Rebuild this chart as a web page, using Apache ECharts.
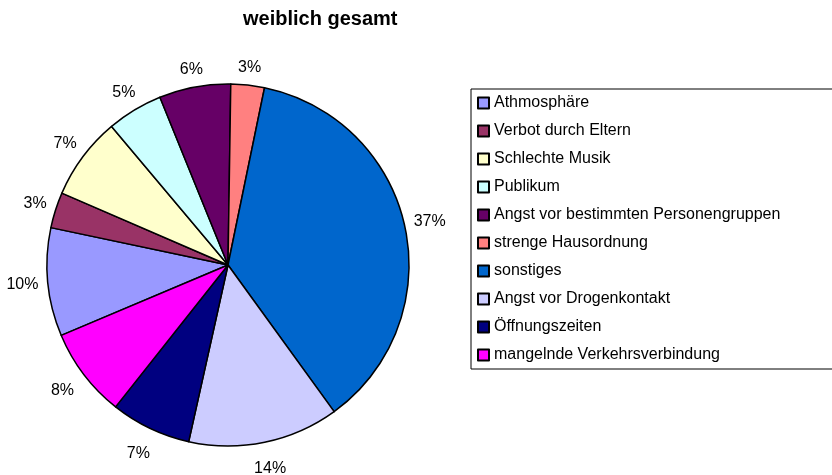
<!DOCTYPE html>
<html>
<head>
<meta charset="utf-8">
<script src="https://cdn.jsdelivr.net/npm/echarts@6/dist/echarts.min.js"></script>
<style>
html, body { margin: 0; padding: 0; background: #fff; }
#chart { width: 832px; height: 475px; }
</style>
</head>
<body>
<div id="chart"></div>
<script>
// Kategorien in Legendenreihenfolge
var categories = ['Athmosphäre', 'Verbot durch Eltern', 'Schlechte Musik', 'Publikum',
	'Angst vor bestimmten Personengruppen', 'strenge Hausordnung', 'sonstiges',
	'Angst vor Drogenkontakt', 'Öffnungszeiten', 'mangelnde Verkehrsverbindung'];
// Anteile in Prozent (aus der Grafik geschätzt)
var shares = [9.7, 3.2, 7.4, 5.0, 6.4, 3.0, 36.9, 13.5, 7.2, 8.0];
var colors = ['#9999FF', '#993366', '#FFFFCC', '#CCFFFF', '#660066',
	'#FF8080', '#0066CC', '#CCCCFF', '#000080', '#FF00FF'];

var font = "'Liberation Sans', Arial, sans-serif";
var cx = 228, cy = 265, r = 181;
var startAngle = 202.9; // Athmosphäre beginnt bei ca. 247° im Uhrzeigersinn ab 12 Uhr

var total = 0;
for (var i = 0; i < shares.length; i++) total += shares[i];

// Winkel der Segmentmitte (Grad, gegen den Uhrzeigersinn ab 3 Uhr)
function midAngle(idx) {
	var before = 0;
	for (var k = 0; k < idx; k++) before += shares[k];
	return startAngle - (before + shares[idx] / 2) / total * 360;
}

var chart = echarts.init(document.getElementById('chart'));
var option = {
	animation: false,
	color: colors,
	title: {
		text: 'weiblich gesamt',
		left: 243,
		top: 9,
		padding: 0,
		textStyle: { fontFamily: font, fontSize: 20, fontWeight: 'bold', color: '#000' }
	},
	legend: {
		orient: 'vertical',
		left: 471,
		top: 89,
		data: categories,
		icon: 'rect',
		itemWidth: 11,
		itemHeight: 11,
		itemGap: 12,
		padding: [6, 60, 6, 6],
		borderColor: '#000',
		borderWidth: 1,
		selectedMode: false,
		textStyle: { fontFamily: font, fontSize: 16, lineHeight: 16, color: '#000' }
	},
	series: [{
		type: 'pie',
		center: [cx, cy],
		radius: r,
		startAngle: startAngle,
		clockwise: true,
		avoidLabelOverlap: false,
		silent: true,
		data: categories.map(function (c, i) { return { name: c, value: shares[i] }; }),
		itemStyle: { borderColor: '#000', borderWidth: 1.5 },
		label: {
			show: true,
			position: 'outside',
			formatter: function (p) { return Math.round(p.value) + '%'; },
			fontFamily: font,
			fontSize: 16,
			color: '#000'
		},
		labelLine: { show: false },
		// Beschriftung radial ausserhalb des Kreises, unten etwas weiter weg
		labelLayout: function (p) {
			var a = midAngle(p.dataIndex) * Math.PI / 180;
			var ux = Math.cos(a), uy = -Math.sin(a);
			var w = p.labelRect.width, h = p.labelRect.height;
			var d = r + 8 + 8 * Math.max(uy, 0) + Math.abs(ux) * w / 2 + Math.abs(uy) * h / 2;
			return { x: cx + ux * d, y: cy + uy * d, align: 'center', verticalAlign: 'middle' };
		}
	}]
};
chart.setOption(option);
</script>
</body>
</html>
